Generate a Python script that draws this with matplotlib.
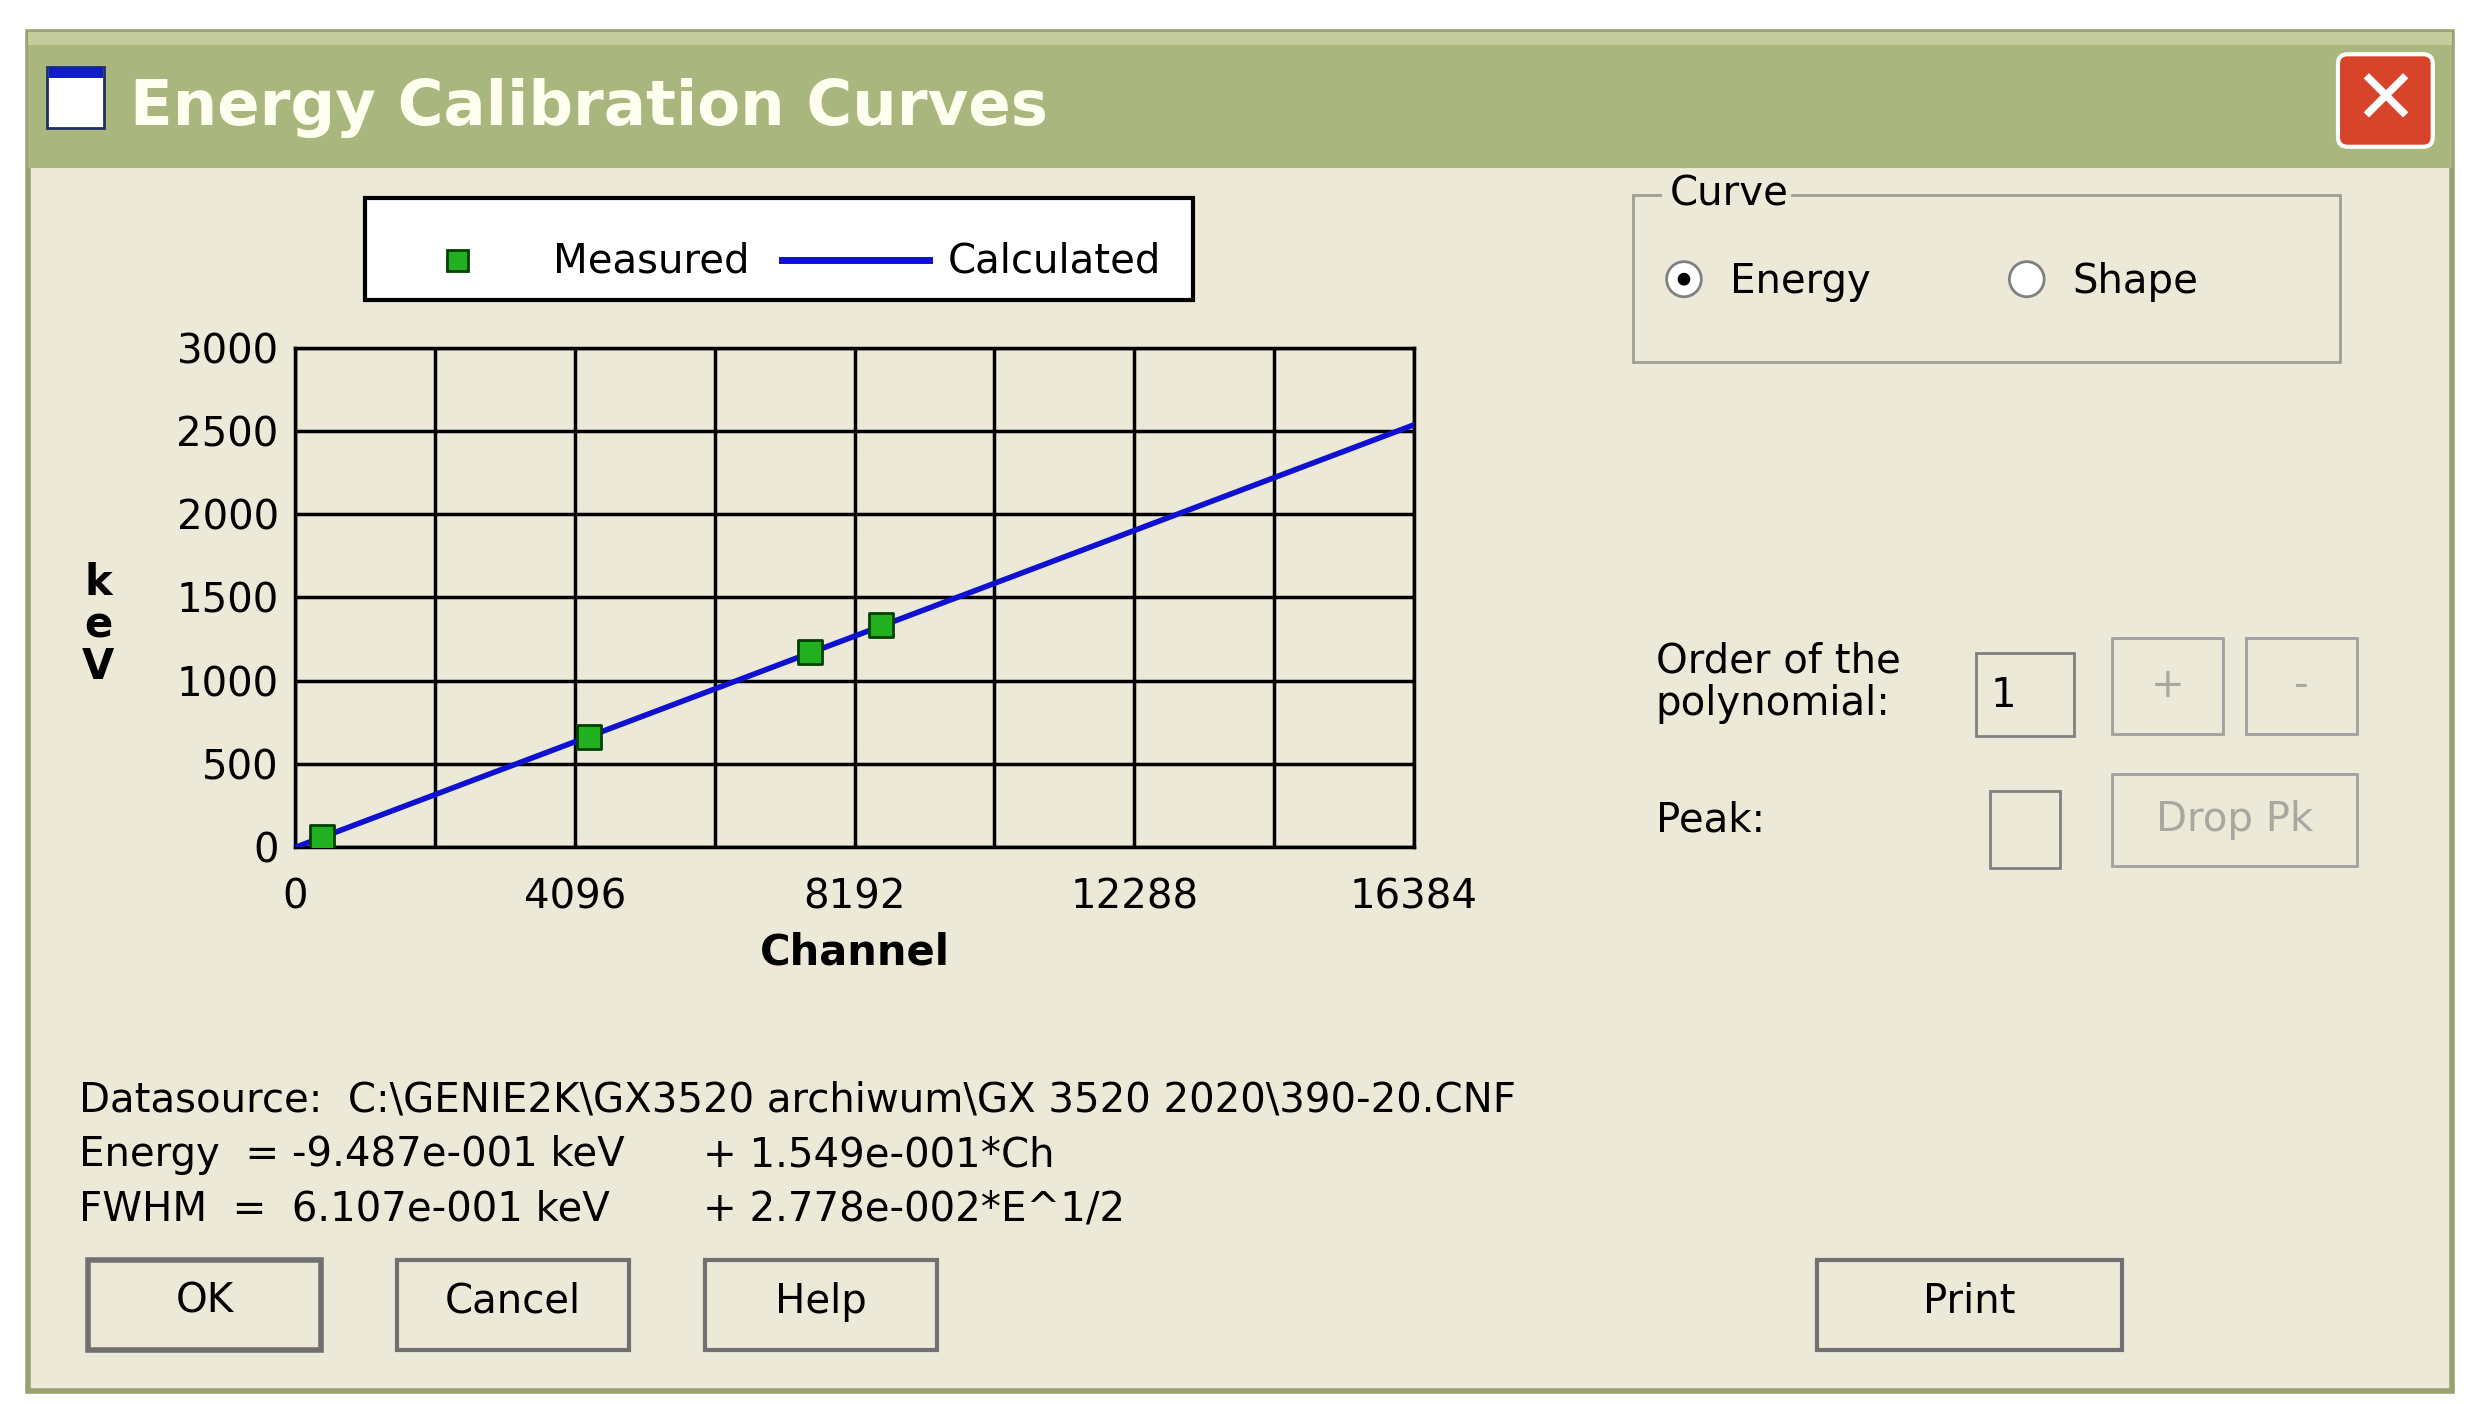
import matplotlib
matplotlib.use("Agg")
import matplotlib.pyplot as plt
from matplotlib.patches import Rectangle, Circle, FancyBboxPatch
import numpy as np

channels_measured = [393, 4304, 7544, 8585]
energy_measured = [59.5, 661.7, 1173.2, 1332.5]
calc_channels = [0, 16384]
offset, gain = -0.9487, 0.1549
xticks = [0, 4096, 8192, 12288, 16384]
xgrid = [2048, 6144, 10240, 14336]
yticks = [0, 500, 1000, 1500, 2000, 2500, 3000]

W, H = 1568, 880
FS = 29
fig = plt.figure(figsize=(24.77, 14.04), dpi=100)
bg = fig.add_axes([0, 0, 1, 1])
bg.set_xlim(0, W); bg.set_ylim(H, 0); bg.axis("off")
fig.patch.set_facecolor("white")
body = "#ECE9D8"
bg.add_patch(Rectangle((18, 20), 1534, 852, fc=body, ec="#9aa070", lw=4))
bg.add_patch(Rectangle((18, 20), 1534, 85, fc="#A9B67E", ec="none"))
bg.add_patch(Rectangle((18, 20), 1534, 8, fc="#C4CC9E", ec="none"))
bg.add_patch(Rectangle((30, 42), 36, 38, fc="white", ec="#203060", lw=2))
bg.add_patch(Rectangle((31, 42), 34, 7, fc="#1020c0", ec="none"))
bg.text(82, 68, "Energy Calibration Curves", fontsize=45, color="#FFFFF0",
        fontweight="bold", va="center")
bg.add_patch(FancyBboxPatch((1480, 34), 60, 58, boxstyle="round,pad=0,rounding_size=6",
                            fc="#D8442A", ec="white", lw=3))
bg.text(1510, 64, "✕", fontsize=55, color="white", ha="center", va="center", fontweight="bold")

# legend box
bg.add_patch(Rectangle((231, 124), 524, 64, fc="white", ec="black", lw=3))
bg.add_patch(Rectangle((283, 157), 13, 13, fc="#20B020", ec="#004000", lw=2))
bg.text(350, 164, "Measured", fontsize=FS, va="center")
bg.plot([495, 588], [163, 163], color="#1010D0", lw=5)
bg.text(600, 164, "Calculated", fontsize=FS, va="center")

# chart
ax = fig.add_axes([187 / W, 1 - 531 / H, 708 / W, 313 / H])
ax.set_facecolor(body)
cal = [offset + gain * c for c in calc_channels]
ax.plot(calc_channels, cal, color="#1010D0", lw=4, zorder=3)
ax.scatter(channels_measured, energy_measured, marker="s", s=300, c="#20B020",
           edgecolors="#004000", linewidths=2, zorder=4)
ax.set_xlim(0, 16384); ax.set_ylim(0, 3000)
ax.set_xticks(xticks); ax.set_yticks(yticks)
ax.set_xticks(xgrid, minor=True)
ax.grid(True, which="both", color="black", lw=2.5)
for s in ax.spines.values():
    s.set_linewidth(2.5)
ax.tick_params(which="both", labelsize=FS, length=0, pad=12)
ax.tick_params(axis="x", pad=22)
ax.set_xlabel("Channel", fontsize=30, fontweight="bold", labelpad=10)
bg.text(62, 392, "k\ne\nV", fontsize=30, fontweight="bold", ha="center", va="center", linespacing=1.0)

# curve group
bg.add_patch(Rectangle((1034, 122), 447, 105, fc="none", ec="#A0A090", lw=2))
bg.add_patch(Rectangle((1052, 110), 82, 24, fc=body, ec="none"))
bg.text(1057, 122, "Curve", fontsize=FS, va="center")
for cx, lab in [(1066, "Energy"), (1283, "Shape")]:
    bg.add_patch(Circle((cx, 175), 11, fc="white", ec="#808080", lw=2))
    bg.text(cx + 29, 177, lab, fontsize=FS, va="center")
bg.add_patch(Circle((1066, 175), 4, fc="black"))

bg.text(1048, 428, "Order of the\npolynomial:", fontsize=FS, va="center", linespacing=1.1)
bg.add_patch(Rectangle((1251, 409), 62, 52, fc=body, ec="#808080", lw=2))
bg.text(1260, 436, "1", fontsize=FS, va="center")
for x0, w, lab, y0, h in [(1337, 70, "+", 400, 60), (1422, 70, "-", 400, 60), (1337, 155, "Drop Pk", 485, 58)]:
    bg.add_patch(Rectangle((x0, y0), w, h, fc=body, ec="#A0A0A0", lw=2))
    bg.text(x0 + w / 2, y0 + h / 2, lab, fontsize=FS, va="center", ha="center", color="#A8A8A0")
bg.text(1048, 514, "Peak:", fontsize=FS, va="center")
bg.add_patch(Rectangle((1260, 496), 44, 48, fc=body, ec="#808080", lw=2))

bg.text(50, 690, r"Datasource:  C:\GENIE2K\GX3520 archiwum\GX 3520 2020\390-20.CNF", fontsize=FS, va="center")
bg.text(50, 724, "Energy  = -9.487e-001 keV", fontsize=FS, va="center")
bg.text(445, 724, "+ 1.549e-001*Ch", fontsize=FS, va="center")
bg.text(50, 758, "FWHM  =  6.107e-001 keV", fontsize=FS, va="center")
bg.text(445, 758, "+ 2.778e-002*E^1/2", fontsize=FS, va="center")

for x0, w, lab in [(56, 147, "OK"), (251, 147, "Cancel"), (446, 147, "Help"), (1150, 193, "Print")]:
    bg.add_patch(Rectangle((x0, 790), w, 56, fc=body, ec="#707070", lw=3 if lab != "OK" else 4))
    bg.text(x0 + w / 2, 816, lab, fontsize=FS, ha="center", va="center")

fig.savefig("out.png", dpi=100)
